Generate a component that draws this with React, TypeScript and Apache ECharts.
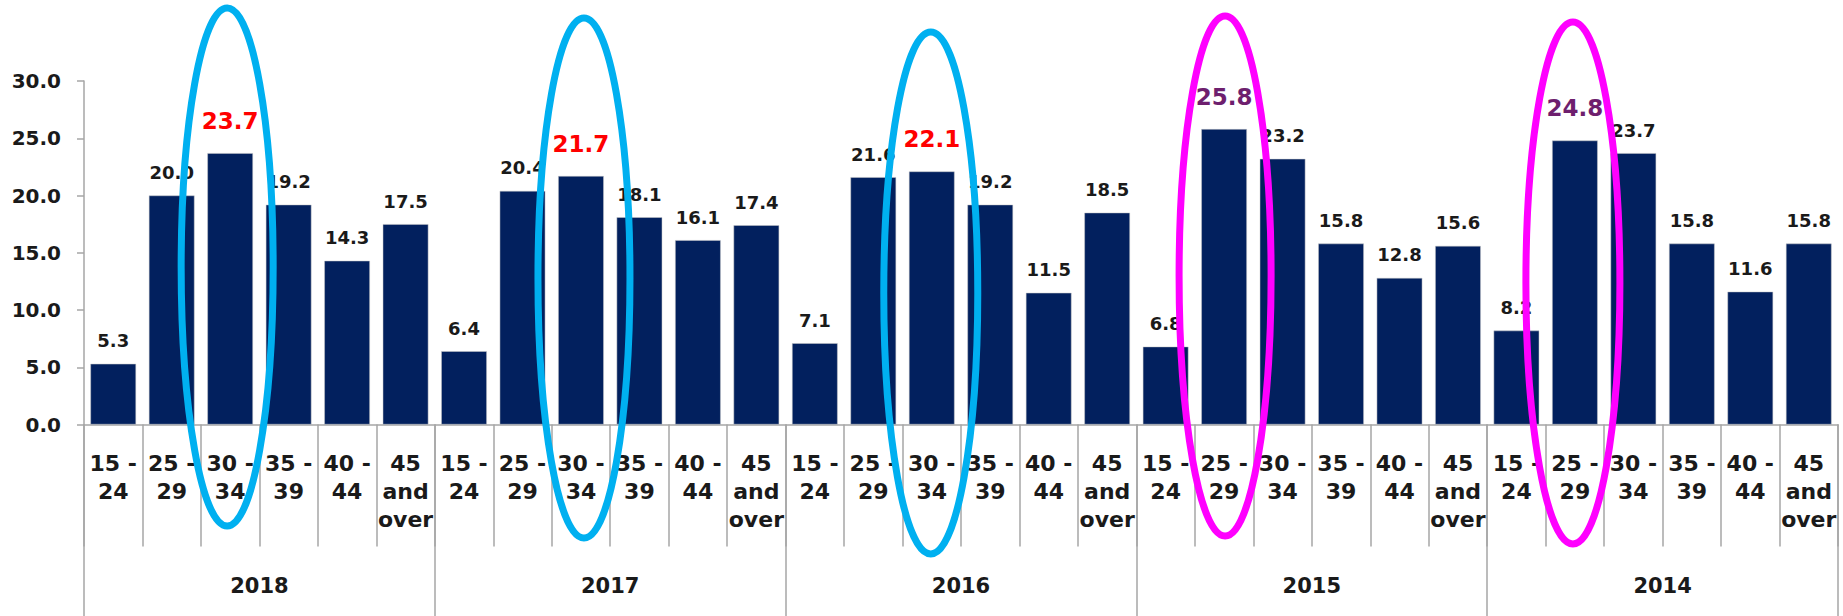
import React, { useEffect, useRef } from "react";
import * as echarts from "echarts";

const ageGroups = ["15 -\n24", "25 -\n29", "30 -\n34", "35 -\n39", "40 -\n44", "45\nand\nover"];
const years = ["2018", "2017", "2016", "2015", "2014"];
const values2018 = [5.3, 20.0, 23.7, 19.2, 14.3, 17.5];
const values2017 = [6.4, 20.4, 21.7, 18.1, 16.1, 17.4];
const values2016 = [7.1, 21.6, 22.1, 19.2, 11.5, 18.5];
const values2015 = [6.8, 25.8, 23.2, 15.8, 12.8, 15.6];
const values2014 = [8.2, 24.8, 23.7, 15.8, 11.6, 15.8];
const yTicks = { min: 0, max: 30, interval: 5 };

// highlighted bars: year, age group, label colour, ring colour
const highlights = [
  { year: "2018", group: 2, text: "#ff0000", ring: "#00b0f0" },
  { year: "2017", group: 2, text: "#ff0000", ring: "#00b0f0" },
  { year: "2016", group: 2, text: "#ff0000", ring: "#00b0f0" },
  { year: "2015", group: 1, text: "#6e1f6e", ring: "#ff00ff" },
  { year: "2014", group: 1, text: "#6e1f6e", ring: "#ff00ff" },
];

const valuesByYear: Record<string, number[]> = {
  "2018": values2018,
  "2017": values2017,
  "2016": values2016,
  "2015": values2015,
  "2014": values2014,
};

const FONT = "'DejaVu Sans', Verdana, sans-serif";
const TEXT = "#1a1a1a";
const GRAY = "#a6a6a6";
const BAR = "#02205e";

// ring geometry (pixels) per highlight, in order
const ringGeom = [
  { dx: -3, cy: 267, rx: 46, ry: 259 },
  { dx: 3, cy: 278, rx: 46, ry: 260 },
  { dx: -1, cy: 293, rx: 47, ry: 261 },
  { dx: 1, cy: 276, rx: 46, ry: 260 },
  { dx: -2, cy: 283, rx: 47, ry: 261 },
];

export default function App() {
  const ref = useRef<HTMLDivElement>(null);
  useEffect(() => {
    if (!ref.current) return;
    const chart = echarts.init(ref.current, null, { renderer: "svg" });

    const cats: string[] = [];
    const data: any[] = [];
    years.forEach((y) => {
      ageGroups.forEach((g, gi) => {
        cats.push(y + "|" + g);
        const v = valuesByYear[y][gi];
        const h = highlights.find((hh) => hh.year === y && hh.group === gi);
        if (h) {
          data.push({
            value: v,
            label: { color: h.text, fontSize: 23, lineHeight: 23, distance: 21 },
          });
        } else {
          data.push(v);
        }
      });
    });

    chart.setOption({
      animation: false,
      grid: { left: 84, right: 5, top: 81, bottom: 191.5, containLabel: false },
      xAxis: [
        {
          type: "category",
          data: cats,
          position: "bottom",
          axisLine: { show: true, lineStyle: { color: GRAY, width: 1.5 } },
          axisTick: {
            show: true,
            interval: 0,
            alignWithLabel: false,
            length: 122,
            lineStyle: { color: GRAY, width: 1.5 },
          },
          axisLabel: {
            interval: 0,
            margin: 25,
            fontFamily: FONT,
            fontWeight: "bold",
            fontSize: 22,
            lineHeight: 28,
            color: TEXT,
            formatter: (v: string) => v.split("|")[1],
          },
        },
        {
          type: "category",
          data: years,
          position: "bottom",
          gridIndex: 0,
          axisLine: { show: false, onZero: false },
          axisTick: {
            show: true,
            interval: 0,
            alignWithLabel: false,
            length: 191.5,
            lineStyle: { color: GRAY, width: 1.5 },
          },
          axisLabel: {
            interval: 0,
            margin: 150,
            fontFamily: FONT,
            fontWeight: "bold",
            fontSize: 21,
            lineHeight: 22,
            color: TEXT,
          },
        },
      ],
      yAxis: {
        type: "value",
        min: yTicks.min,
        max: yTicks.max,
        interval: yTicks.interval,
        axisLine: { show: true, lineStyle: { color: GRAY, width: 1.5 } },
        axisTick: { show: true, length: 7, lineStyle: { color: GRAY, width: 1.5 } },
        splitLine: { show: false },
        axisLabel: {
          margin: 23,
          fontFamily: FONT,
          fontWeight: "bold",
          fontSize: 20,
          color: TEXT,
          formatter: (v: number) => v.toFixed(1),
        },
      },
      series: [
        {
          type: "bar",
          xAxisIndex: 0,
          data,
          barCategoryGap: "22%",
          itemStyle: { color: BAR, borderColor: "#c8c8c8", borderWidth: 0.5 },
          label: {
            show: true,
            position: "top",
            distance: 14,
            fontFamily: FONT,
            fontWeight: "bold",
            fontSize: 18,
            lineHeight: 18,
            color: TEXT,
            formatter: (p: any) => Number(p.value).toFixed(1),
          },
        },
      ],
    });

    const graphics = highlights.map((h, i) => {
      const idx = years.indexOf(h.year) * ageGroups.length + h.group;
      const cx = chart.convertToPixel({ xAxisIndex: 0 }, idx) as number;
      const g = ringGeom[i];
      return {
        type: "ellipse",
        z: 100,
        shape: { cx: cx + g.dx, cy: g.cy, rx: g.rx, ry: g.ry },
        style: { fill: "none", stroke: h.ring, lineWidth: 7 },
        silent: true,
      };
    });
    chart.setOption({ graphic: graphics });

    return () => chart.dispose();
  }, []);

  return (
    <div
      ref={ref}
      style={{ position: "absolute", left: 0, top: 0, width: 1843, height: 616, background: "#fff" }}
    />
  );
}
